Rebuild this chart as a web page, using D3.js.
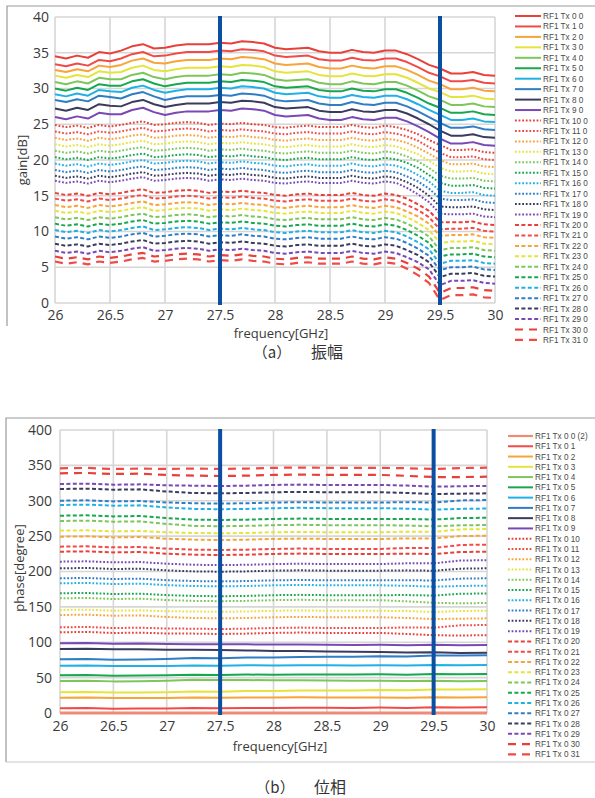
<!DOCTYPE html>
<html><head><meta charset="utf-8">
<script src="https://cdn.jsdelivr.net/npm/d3@7/dist/d3.min.js"></script>
<style>
html,body{margin:0;padding:0;background:#fff;}
svg{display:block;}
</style></head><body>
<svg id="fig" width="595" height="798"></svg>
<script>
// ---------- colours (10-step palette repeated for each line style) ----------
const palette = ["#e8403a","#f24a46","#f7a43a","#e4e43a","#7cc65a","#17a84f","#1fb1e6","#2f7dc5","#3b3b5e","#7a48b5"];
const longDashColors = ["#e8403a","#f24a46"];

// ---------- (a) gain ----------
const gainFreqs = [26.0,26.1,26.2,26.3,26.4,26.5,26.6,26.7,26.8,26.9,27.0,27.1,27.2,27.3,27.4,27.5,27.6,27.7,27.8,27.9,28.0,28.1,28.2,28.3,28.4,28.5,28.6,28.7,28.8,28.9,29.0,29.1,29.2,29.3,29.4,29.5,29.6,29.7,29.8,29.9,30.0];
const gainTicksX = [26,26.5,27,27.5,28,28.5,29,29.5,30];
const gainTicksY = [0,5,10,15,20,25,30,35,40];
const gainLabels = ["RF1 Tx 0 0","RF1 Tx 1 0","RF1 Tx 2 0","RF1 Tx 3 0","RF1 Tx 4 0","RF1 Tx 5 0","RF1 Tx 6 0","RF1 Tx 7 0","RF1 Tx 8 0","RF1 Tx 9 0",
  "RF1 Tx 10 0","RF1 Tx 11 0","RF1 Tx 12 0","RF1 Tx 13 0","RF1 Tx 14 0","RF1 Tx 15 0","RF1 Tx 16 0","RF1 Tx 17 0","RF1 Tx 18 0","RF1 Tx 19 0",
  "RF1 Tx 20 0","RF1 Tx 21 0","RF1 Tx 22 0","RF1 Tx 23 0","RF1 Tx 24 0","RF1 Tx 25 0","RF1 Tx 26 0","RF1 Tx 27 0","RF1 Tx 28 0","RF1 Tx 29 0",
  "RF1 Tx 30 0","RF1 Tx 31 0"];

// solid: Tx 0..9
const gainSolid = [
 [34.5,34.2,34.6,34.3,35.1,34.9,35.3,35.9,36.2,35.6,35.7,36.0,36.2,36.2,36.2,36.4,36.3,36.6,36.5,36.3,35.7,35.5,35.6,35.7,35.2,35.0,35.0,35.4,35.1,35.0,35.3,35.3,34.8,34.1,33.3,32.8,32.1,32.1,32.3,31.9,31.8],
 [33.4,33.1,33.5,33.2,34.0,33.8,34.2,34.8,35.1,34.5,34.6,34.9,35.1,35.1,35.1,35.3,35.2,35.5,35.4,35.2,34.6,34.4,34.5,34.6,34.1,33.9,33.9,34.3,34.0,33.9,34.2,34.2,33.7,33.0,32.2,31.7,31.0,31.0,31.2,30.8,30.7],
 [32.6,32.3,32.7,32.4,33.2,33.0,33.3,33.9,34.2,33.6,33.5,33.8,34.0,34.0,34.0,34.2,34.1,34.4,34.3,34.1,33.5,33.3,33.4,33.5,33.0,32.8,32.8,33.2,32.9,32.8,33.1,33.1,32.6,31.9,31.1,30.6,29.9,29.9,30.1,29.7,29.6],
 [31.8,31.5,31.9,31.6,32.4,32.2,32.3,32.9,33.2,32.6,32.4,32.7,32.9,32.9,32.9,33.1,33.0,33.3,33.2,33.0,32.4,32.2,32.3,32.4,31.9,31.7,31.7,32.1,31.8,31.7,32.0,32.0,31.5,30.8,30.0,29.5,28.8,28.8,29.0,28.6,28.5],
 [30.9,30.6,31.0,30.7,31.5,31.3,31.3,31.9,32.2,31.6,31.3,31.6,31.8,31.8,31.8,32.0,31.9,32.2,32.1,31.9,31.3,31.1,31.2,31.3,30.8,30.6,30.6,31.0,30.7,30.6,30.9,30.9,30.4,29.7,28.9,28.4,27.7,27.7,27.9,27.5,27.4],
 [30.0,29.7,30.1,29.8,30.6,30.4,30.4,31.0,31.3,30.7,30.3,30.6,30.8,30.8,30.8,31.0,30.9,31.2,31.1,30.9,30.3,30.1,30.2,30.3,29.8,29.6,29.6,30.0,29.7,29.6,29.9,29.9,29.4,28.7,27.9,27.3,26.6,26.6,26.8,26.4,26.3],
 [29.2,28.9,29.3,29.0,29.8,29.6,29.5,30.1,30.4,29.8,29.4,29.7,29.9,29.9,29.9,30.1,30.0,30.3,30.2,30.0,29.4,29.2,29.3,29.4,28.9,28.7,28.7,29.1,28.8,28.7,29.0,29.0,28.5,27.8,27.0,26.3,25.6,25.6,25.8,25.4,25.3],
 [28.4,28.1,28.5,28.2,29.0,28.8,28.6,29.2,29.5,28.9,28.4,28.7,28.9,28.9,28.9,29.1,29.0,29.3,29.2,29.0,28.4,28.2,28.3,28.4,27.9,27.7,27.7,28.1,27.8,27.7,28.0,28.0,27.5,26.8,26.0,25.2,24.5,24.5,24.7,24.3,24.2],
 [27.2,26.9,27.3,27.0,27.8,27.6,27.5,28.1,28.4,27.8,27.4,27.7,27.9,27.9,27.9,28.1,28.0,28.3,28.2,28.0,27.4,27.2,27.3,27.4,26.9,26.7,26.7,27.1,26.8,26.7,27.0,27.0,26.5,25.8,25.0,24.1,23.4,23.4,23.6,23.2,23.1],
 [26.0,25.7,26.1,25.8,26.6,26.4,26.4,27.0,27.3,26.7,26.3,26.6,26.8,26.8,26.8,27.0,26.9,27.2,27.1,26.9,26.3,26.1,26.2,26.3,25.8,25.6,25.6,26.0,25.7,25.6,25.9,25.9,25.4,24.7,23.9,23.0,22.3,22.3,22.5,22.1,22.0]
];
// dotted: Tx 10..19
const gainDotted = [
 [24.9,24.6,24.8,24.5,24.9,24.7,24.9,25.2,25.4,24.9,25.0,25.2,25.3,25.2,24.9,25.1,25.0,25.2,25.0,24.9,24.6,24.5,24.7,24.8,24.6,24.6,24.6,24.9,24.6,24.5,24.8,24.6,24.2,23.6,22.8,22.1,21.4,21.4,21.5,21.1,21.0],
 [24.0,23.7,23.9,23.6,24.0,23.8,24.0,24.3,24.5,24.0,24.1,24.3,24.4,24.3,24.0,24.2,24.1,24.3,24.1,24.0,23.7,23.6,23.8,23.9,23.7,23.7,23.7,24.0,23.7,23.6,23.9,23.7,23.3,22.7,21.8,21.0,20.4,20.4,20.5,20.1,20.0],
 [23.1,22.8,23.0,22.7,23.1,22.9,23.1,23.4,23.6,23.1,23.2,23.4,23.5,23.4,23.1,23.3,23.2,23.4,23.2,23.1,22.8,22.7,22.9,23.0,22.8,22.8,22.8,23.1,22.8,22.7,23.0,22.8,22.4,21.7,20.9,20.0,19.4,19.4,19.5,19.1,19.0],
 [22.2,21.9,22.1,21.8,22.2,22.0,22.2,22.5,22.7,22.2,22.3,22.5,22.6,22.5,22.2,22.4,22.3,22.5,22.3,22.2,21.9,21.8,22.0,22.1,21.9,21.9,21.9,22.2,21.9,21.8,22.1,21.9,21.4,20.8,19.9,18.9,18.4,18.4,18.5,18.1,18.0],
 [21.3,21.0,21.2,20.9,21.3,21.1,21.3,21.6,21.8,21.3,21.4,21.6,21.7,21.6,21.3,21.5,21.4,21.6,21.4,21.3,21.0,20.9,21.1,21.2,21.0,21.0,21.0,21.3,21.0,20.9,21.2,21.0,20.5,19.8,18.9,17.8,17.4,17.4,17.5,17.1,17.0],
 [20.4,20.1,20.3,20.0,20.4,20.2,20.4,20.7,20.9,20.4,20.5,20.7,20.8,20.7,20.4,20.6,20.5,20.7,20.5,20.4,20.1,20.0,20.2,20.3,20.1,20.1,20.1,20.4,20.1,20.0,20.3,20.1,19.6,18.9,17.9,16.8,16.4,16.4,16.5,16.1,16.0],
 [19.5,19.2,19.4,19.1,19.5,19.3,19.5,19.8,20.0,19.5,19.6,19.8,19.9,19.8,19.5,19.7,19.6,19.8,19.6,19.5,19.2,19.1,19.3,19.4,19.2,19.2,19.2,19.5,19.2,19.1,19.4,19.2,18.7,17.9,17.0,15.7,15.4,15.4,15.5,15.1,15.0],
 [18.6,18.3,18.5,18.2,18.6,18.4,18.6,18.9,19.1,18.6,18.7,18.9,19.0,18.9,18.6,18.8,18.7,18.9,18.7,18.6,18.3,18.2,18.4,18.5,18.3,18.3,18.3,18.6,18.3,18.2,18.5,18.3,17.7,17.0,16.0,14.6,14.4,14.4,14.5,14.1,14.0],
 [17.8,17.5,17.7,17.4,17.8,17.6,17.8,18.1,18.3,17.8,17.9,18.1,18.2,18.1,17.8,18.0,17.9,18.1,17.9,17.8,17.5,17.4,17.6,17.7,17.5,17.5,17.5,17.8,17.5,17.4,17.7,17.5,16.9,16.1,15.0,13.5,13.4,13.4,13.5,13.1,13.0],
 [17.1,16.8,17.0,16.7,17.1,16.9,17.1,17.4,17.6,17.1,17.2,17.4,17.5,17.4,17.1,17.3,17.2,17.4,17.2,17.1,16.8,16.7,16.9,17.0,16.8,16.8,16.8,17.1,16.8,16.7,17.0,16.8,16.1,15.2,14.1,12.5,12.4,12.4,12.5,12.1,12.0]
];
// dashed: Tx 20..29
const gainDashed = [
 [15.4,15.1,15.3,15.0,15.4,15.2,15.4,15.7,15.9,15.4,15.5,15.7,15.8,15.7,15.4,15.6,15.5,15.7,15.5,15.4,15.1,15.0,15.2,15.3,15.1,15.1,15.1,15.4,15.1,15.0,15.3,15.1,14.6,13.8,12.9,11.3,11.3,11.3,11.4,11.0,10.9],
 [14.6,14.3,14.5,14.2,14.6,14.4,14.6,14.9,15.1,14.6,14.7,14.9,15.0,14.9,14.6,14.8,14.7,14.9,14.7,14.6,14.3,14.2,14.4,14.5,14.3,14.3,14.3,14.6,14.3,14.2,14.5,14.3,13.7,13.0,12.0,10.3,10.4,10.4,10.5,10.1,10.0],
 [13.7,13.4,13.6,13.3,13.7,13.5,13.7,14.0,14.2,13.7,13.8,14.0,14.1,14.0,13.7,13.9,13.8,14.0,13.8,13.7,13.4,13.3,13.5,13.6,13.4,13.4,13.4,13.7,13.4,13.3,13.6,13.4,12.8,12.1,11.1,9.4,9.5,9.5,9.6,9.2,9.1],
 [12.9,12.6,12.8,12.5,12.9,12.7,12.9,13.2,13.4,12.9,13.0,13.2,13.3,13.2,12.9,13.1,13.0,13.2,13.0,12.9,12.6,12.5,12.7,12.8,12.6,12.6,12.6,12.9,12.6,12.5,12.8,12.6,12.0,11.2,10.2,8.4,8.6,8.6,8.7,8.3,8.2],
 [12.0,11.7,11.9,11.6,12.0,11.8,12.0,12.3,12.5,12.0,12.1,12.3,12.4,12.3,12.0,12.2,12.1,12.3,12.1,12.0,11.7,11.6,11.8,11.9,11.7,11.7,11.7,12.0,11.7,11.6,11.9,11.7,11.1,10.3,9.3,7.4,7.7,7.7,7.8,7.4,7.3],
 [11.1,10.8,11.0,10.7,11.1,10.9,11.1,11.4,11.6,11.1,11.2,11.4,11.5,11.4,11.1,11.3,11.2,11.4,11.2,11.1,10.8,10.7,10.9,11.0,10.8,10.8,10.8,11.1,10.8,10.7,11.0,10.8,10.2,9.4,8.4,6.5,6.8,6.8,6.9,6.5,6.4],
 [10.2,9.9,10.1,9.8,10.2,10.0,10.2,10.5,10.7,10.2,10.3,10.5,10.6,10.5,10.2,10.4,10.3,10.5,10.3,10.2,9.9,9.8,10.0,10.1,9.9,9.9,9.9,10.2,9.9,9.8,10.1,9.9,9.3,8.5,7.5,5.5,5.9,5.9,6.0,5.6,5.5],
 [9.3,9.0,9.2,8.9,9.3,9.1,9.3,9.6,9.8,9.3,9.4,9.6,9.7,9.6,9.3,9.5,9.4,9.6,9.4,9.3,9.0,8.9,9.1,9.2,9.0,9.0,9.0,9.3,9.0,8.9,9.2,9.0,8.4,7.6,6.6,4.6,5.0,5.0,5.1,4.7,4.6],
 [8.3,8.0,8.2,7.9,8.3,8.1,8.3,8.6,8.8,8.3,8.4,8.6,8.7,8.6,8.3,8.5,8.4,8.6,8.4,8.3,8.0,7.9,8.1,8.2,8.0,8.0,8.0,8.3,8.0,7.9,8.2,8.0,7.4,6.7,5.7,3.6,4.1,4.1,4.2,3.8,3.7],
 [7.3,7.0,7.2,6.9,7.3,7.1,7.3,7.6,7.8,7.3,7.4,7.6,7.7,7.6,7.3,7.5,7.4,7.6,7.4,7.3,7.0,6.9,7.1,7.2,7.0,7.0,7.0,7.3,7.0,6.9,7.2,7.0,6.4,5.7,4.7,2.5,3.1,3.1,3.2,2.8,2.7]
];
// long dash: Tx 30, 31
const gainLongDash = [
 [6.5,6.2,6.4,6.1,6.5,6.3,6.5,6.8,7.0,6.5,6.6,6.8,6.9,6.8,6.5,6.7,6.6,6.8,6.6,6.5,6.2,6.1,6.3,6.4,6.2,6.2,6.2,6.5,6.2,6.1,6.4,6.2,5.6,4.8,3.7,1.4,2.1,2.1,2.2,1.8,1.7],
 [5.8,5.5,5.7,5.4,5.8,5.6,5.8,6.1,6.3,5.8,5.9,6.1,6.2,6.1,5.8,6.0,5.9,6.1,5.9,5.8,5.5,5.4,5.6,5.7,5.5,5.5,5.5,5.8,5.5,5.4,5.7,5.5,4.8,3.9,2.8,0.4,1.1,1.1,1.2,0.8,0.7]
];

// ---------- (b) phase ----------
const phaseFreqs = [26,26.25,26.5,26.75,27,27.25,27.5,27.75,28,28.25,28.5,28.75,29,29.25,29.5,29.75,30];
const phaseTicksX = [26,26.5,27,27.5,28,28.5,29,29.5,30];
const phaseTicksY = [0,50,100,150,200,250,300,350,400];
const phaseLabels = ["RF1 Tx 0 0 (2)","RF1 Tx 0 1","RF1 Tx 0 2","RF1 Tx 0 3","RF1 Tx 0 4","RF1 Tx 0 5","RF1 Tx 0 6","RF1 Tx 0 7","RF1 Tx 0 8","RF1 Tx 0 9",
  "RF1 Tx 0 10","RF1 Tx 0 11","RF1 Tx 0 12","RF1 Tx 0 13","RF1 Tx 0 14","RF1 Tx 0 15","RF1 Tx 0 16","RF1 Tx 0 17","RF1 Tx 0 18","RF1 Tx 0 19",
  "RF1 Tx 0 20","RF1 Tx 0 21","RF1 Tx 0 22","RF1 Tx 0 23","RF1 Tx 0 24","RF1 Tx 0 25","RF1 Tx 0 26","RF1 Tx 0 27","RF1 Tx 0 28","RF1 Tx 0 29",
  "RF1 Tx 0 30","RF1 Tx 0 31"];
const phaseSolid = [
 [0,0,0,0,0,0,0,0,0,0,0,0,0,0,0,0,0],
 [6.6,6.9,6.1,6.3,6.3,6.9,6.6,7.2,7.0,7.5,7.3,7.2,7.6,7.2,8.1,7.7,8.0],
 [21.6,21.9,21.1,21.3,21.3,21.9,21.6,22.0,21.8,22.1,21.9,21.8,22.0,21.5,22.4,21.9,22.2],
 [29.3,29.6,28.8,29.0,29.4,30.3,30.0,31.0,31.1,31.7,31.8,31.9,32.5,32.1,33.3,33.2,33.5],
 [45.2,45.5,44.7,44.9,45.6,46.9,46.6,46.6,46.2,46.3,45.9,45.6,45.6,45.1,45.7,44.9,45.2],
 [53.3,53.6,52.8,53.0,53.2,54.0,53.7,54.3,54.1,54.5,54.4,54.3,54.6,54.2,55.1,54.7,55.0],
 [66.9,67.2,66.4,66.6,66.6,67.2,66.9,67.4,67.2,67.6,67.4,67.2,67.5,67.1,67.9,67.5,67.8],
 [75.9,76.2,75.4,75.6,76.3,77.6,77.3,78.4,78.6,79.3,79.4,79.6,80.2,79.9,81.2,81.2,81.5],
 [90.5,90.8,90.0,90.2,89.5,89.3,89.0,88.5,87.8,87.7,87.0,86.4,86.2,85.5,86.0,84.7,85.0],
 [98.5,98.8,98.0,98.2,97.5,97.3,97.0,97.1,96.7,96.9,96.5,96.2,96.3,95.8,96.5,95.7,96.0]
];
const phaseDotted = [
 [114.1,114.6,113.1,113.6,112.4,112.2,111.7,112.2,113.2,113.7,113.2,113.2,113.2,111.7,109.9,109.5,110.0],
 [121.1,121.6,120.1,120.6,119.4,119.2,118.7,119.2,120.2,120.7,120.2,120.2,120.2,120.9,120.6,123.9,124.4],
 [138.5,139.0,137.5,138.0,135.7,134.3,133.8,134.3,135.3,135.8,135.3,135.3,135.3,134.3,132.8,133.3,133.8],
 [145.6,146.1,144.6,145.1,143.8,143.5,143.0,143.5,144.5,145.0,144.5,144.5,144.5,144.0,142.8,144.1,144.6],
 [162.1,162.6,161.1,161.6,159.6,158.5,158.0,158.5,159.5,160.0,159.5,159.5,159.5,157.8,155.8,155.0,155.5],
 [169.2,169.7,168.2,168.7,166.6,165.5,165.0,165.5,166.5,167.0,166.5,166.5,166.5,166.7,166.0,168.5,169.0],
 [183.3,183.8,182.3,182.8,180.7,179.5,179.0,179.5,180.5,181.0,180.5,180.5,180.5,179.8,178.5,179.5,180.0],
 [190.4,190.9,189.4,189.9,187.7,186.5,186.0,186.5,187.5,188.0,187.5,187.5,187.5,187.8,187.2,189.9,190.4],
 [204.5,205.0,203.5,204.0,201.6,200.2,199.7,200.2,201.2,201.7,201.2,201.2,201.2,201.6,201.1,204.0,204.5],
 [213.9,214.4,212.9,213.4,211.0,209.5,209.0,209.5,210.5,211.0,210.5,210.5,210.5,211.6,211.5,215.5,216.0]
];
const phaseDashed = [
 [228.0,228.5,227.0,227.5,225.2,223.8,223.3,223.8,224.8,225.3,224.8,224.8,224.8,225.2,224.7,227.5,228.0],
 [235.1,235.6,234.1,234.6,232.3,230.9,230.4,230.9,231.9,232.4,231.9,231.9,231.9,233.2,233.2,237.5,238.0],
 [249.2,249.7,248.2,248.7,246.4,245.0,244.5,245.0,246.0,246.5,246.0,246.0,246.0,246.8,246.6,250.1,250.6],
 [257.7,258.2,256.7,257.2,255.4,254.5,254.0,254.5,255.5,256.0,255.5,255.5,255.5,256.3,256.0,259.5,260.0],
 [271.4,271.9,270.4,270.9,267.2,264.5,264.0,264.5,265.5,266.0,265.5,265.5,265.5,265.0,263.9,265.2,265.7],
 [278.9,279.4,277.9,278.4,275.4,273.3,272.8,273.3,274.3,274.8,274.3,274.3,274.3,274.3,273.4,275.5,276.0],
 [294.0,294.5,293.0,293.5,290.5,288.5,288.0,288.5,289.5,290.0,289.5,289.5,289.5,288.8,287.5,288.5,289.0],
 [300.1,300.6,299.1,299.6,297.6,296.5,296.0,296.5,297.5,298.0,297.5,297.5,297.5,298.0,297.5,300.5,301.0],
 [316.6,317.1,315.6,316.1,313.1,311.0,310.5,311.0,312.0,312.5,312.0,312.0,312.0,311.0,309.5,310.0,310.5],
 [323.7,324.2,322.7,323.2,321.8,321.3,320.8,321.3,322.3,322.8,322.3,322.3,322.3,321.4,319.9,320.5,321.0]
];
const phaseLongDash = [
 [338.8,339.3,337.8,338.3,336.4,335.5,335.0,335.5,336.5,337.0,336.5,336.5,336.5,335.2,333.5,333.5,334.0],
 [345.9,346.4,344.9,345.4,345.0,345.5,345.0,345.5,346.5,347.0,346.5,346.5,346.5,346.0,344.9,346.2,346.7]
];

const markerFreqs = [27.5, 29.5];

// ---------- line styles ----------
const styleFor = (k) => {
  if (k < 10) return {color: palette[k], dash: null, width: 2};
  if (k < 20) return {color: palette[k - 10], dash: "1.8,1.8", width: 2};
  if (k < 30) return {color: palette[k - 20], dash: "4,2.4", width: 2};
  return {color: longDashColors[k - 30], dash: "8,6", width: 2.2};
};

const svg = d3.select("#fig");
const tickFont = "'Open Sans', 'Noto Sans', sans-serif";
const legendFont = "'Liberation Sans', Arial, sans-serif";

function drawPanel(cfg) {
  const g = svg.append("g");
  const x = d3.scaleLinear().domain([26, 30]).range([cfg.left, cfg.right]);
  const y = d3.scaleLinear().domain([cfg.yTicks[0], cfg.yTicks[cfg.yTicks.length - 1]]).range([cfg.bottom, cfg.top]);

  // frame
  g.append("path")
    .attr("d", `M${cfg.frame.x},${cfg.frame.y1} V${cfg.frame.y0} H${cfg.frame.x2}`)
    .attr("fill", "none").attr("stroke", "#9a9a9a").attr("stroke-width", 1.2);
  if (cfg.frame.bottom) {
    g.append("line").attr("x1", cfg.frame.x).attr("x2", cfg.frame.x2)
      .attr("y1", cfg.frame.y1).attr("y2", cfg.frame.y1)
      .attr("stroke", "#c8c8c8").attr("stroke-width", 1.2);
  }

  // grid
  const grid = g.append("g").attr("stroke", "#d6d6d6").attr("stroke-width", 1.6);
  grid.selectAll("line.h").data(cfg.yTicks).join("line")
    .attr("x1", cfg.left).attr("x2", cfg.right)
    .attr("y1", d => y(d)).attr("y2", d => y(d));
  grid.selectAll("line.v").data(cfg.xTicks).join("line")
    .attr("x1", d => x(d)).attr("x2", d => x(d))
    .attr("y1", cfg.top).attr("y2", cfg.bottom);

  // series
  const line = d3.line().x(d => x(d[0])).y(d => y(d[1]));
  const lines = g.append("g").attr("fill", "none").attr("stroke-linejoin", "round");
  cfg.series.forEach((vals, k) => {
    const st = k === 0 && cfg.zeroStyle ? cfg.zeroStyle : styleFor(k);
    const pts = vals.map((v, i) => [cfg.freqs[i], v]);
    lines.append("path").attr("d", line(pts))
      .attr("stroke", st.color).attr("stroke-width", st.width)
      .attr("stroke-dasharray", st.dash);
  });

  // 27.5 / 29.5 GHz markers
  g.append("g").selectAll("line").data(markerFreqs).join("line")
    .attr("x1", d => x(d)).attr("x2", d => x(d))
    .attr("y1", cfg.top - 1).attr("y2", cfg.bottom + 2)
    .attr("stroke", "#0b4fa0").attr("stroke-width", 4);

  // axes
  const ax = g.append("g").attr("transform", `translate(0,${cfg.bottom})`)
    .call(d3.axisBottom(x).tickValues(cfg.xTicks).tickSize(0).tickPadding(cfg.xPad).tickFormat(d => String(d)));
  const ay = g.append("g").attr("transform", `translate(${cfg.left},0)`)
    .call(d3.axisLeft(y).tickValues(cfg.yTicks).tickSize(0).tickPadding(cfg.yPad).tickFormat(d => String(d)));
  [ax, ay].forEach(a => {
    a.select(".domain").remove();
    a.selectAll("text").attr("font-family", tickFont).attr("font-size", 14).attr("fill", "#3a3a3a");
  });

  // axis titles
  g.append("text").attr("x", cfg.xTitle[0]).attr("y", cfg.xTitle[1])
    .attr("text-anchor", "middle").attr("font-family", tickFont).attr("font-size", 13)
    .attr("fill", "#3a3a3a").text("frequency[GHz]");
  g.append("text").attr("transform", `translate(${cfg.yTitle[0]},${cfg.yTitle[1]}) rotate(-90)`)
    .attr("text-anchor", "middle").attr("font-family", tickFont).attr("font-size", 13)
    .attr("fill", "#3a3a3a").text(cfg.yLabel);

  // legend
  const lg = g.append("g");
  cfg.labels.forEach((lab, k) => {
    const st = k === 0 && cfg.zeroStyle ? cfg.zeroStyle : styleFor(k);
    const yy = cfg.legend.y + k * cfg.legend.step;
    lg.append("line").attr("x1", cfg.legend.x0).attr("x2", cfg.legend.x1)
      .attr("y1", yy).attr("y2", yy)
      .attr("stroke", st.color).attr("stroke-width", Math.min(st.width, 2.2))
      .attr("stroke-dasharray", st.dash);
    lg.append("text").attr("x", cfg.legend.x1 + 2).attr("y", yy + 3)
      .attr("font-family", legendFont).attr("font-size", 8.2).attr("fill", "#4a4a4a")
      .text(lab);
  });

  // caption
  g.append("text").attr("x", cfg.caption.x).attr("y", cfg.caption.y)
    .attr("text-anchor", "middle").attr("font-family", "'Noto Sans CJK JP', sans-serif")
    .attr("font-size", 15).attr("fill", "#333").text(cfg.caption.tag);
  g.append("text").attr("x", cfg.caption.x + 55).attr("y", cfg.caption.y)
    .attr("text-anchor", "middle").attr("font-family", "'Noto Sans CJK JP', sans-serif")
    .attr("font-size", 16).attr("fill", "#333").text(cfg.caption.title);
}

drawPanel({
  left: 55, right: 495, top: 17, bottom: 303,
  xTicks: gainTicksX, yTicks: gainTicksY, xPad: 7, yPad: 6,
  freqs: gainFreqs,
  series: [...gainSolid, ...gainDotted, ...gainDashed, ...gainLongDash],
  labels: gainLabels,
  yLabel: "gain[dB]", xTitle: [281, 338], yTitle: [27, 160],
  legend: {x0: 515, x1: 541, y: 16, step: 10.45},
  frame: {x: 7, y0: 6, x2: 600, y1: 326, bottom: false},
  caption: {x: 272, y: 358, tag: "（a）", title: "振幅"}
});

drawPanel({
  left: 60, right: 487, top: 430, bottom: 713,
  xTicks: phaseTicksX, yTicks: phaseTicksY, xPad: 8, yPad: 8,
  freqs: phaseFreqs,
  series: [...phaseSolid, ...phaseDotted, ...phaseDashed, ...phaseLongDash],
  labels: phaseLabels,
  yLabel: "phase[degree]", xTitle: [280, 751], yTitle: [24, 568],
  legend: {x0: 508, x1: 533, y: 436, step: 10.27},
  frame: {x: 6, y0: 418, x2: 600, y1: 762, bottom: true},
  caption: {x: 275, y: 793, tag: "（b）", title: "位相"},
  zeroStyle: {color: "#ef8a76", dash: null, width: 3}
});
</script>
</body></html>
